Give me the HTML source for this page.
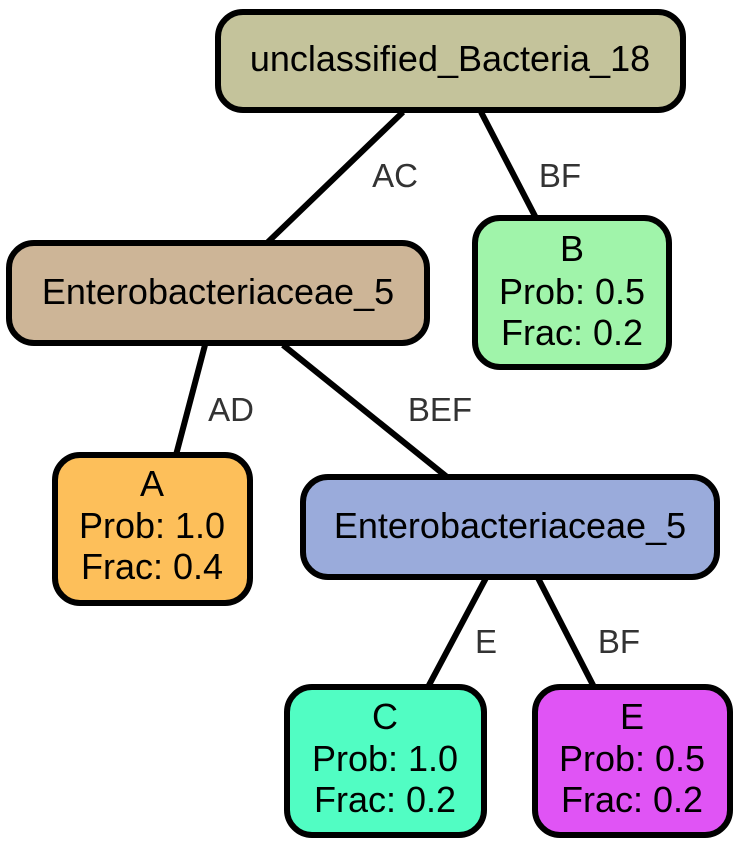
<!DOCTYPE html>
<html><head><meta charset="utf-8"><style>html,body{margin:0;padding:0;background:#fff}svg{display:block}</style></head>
<body>
<svg width="742" height="846" viewBox="0 0 742 846" xmlns="http://www.w3.org/2000/svg" font-family="'Liberation Sans', Arial, sans-serif">
<g stroke="#000" stroke-width="6" fill="none">
<line x1="403" y1="112" x2="268" y2="242"/>
<line x1="481" y1="112" x2="536" y2="218"/>
<line x1="205" y1="345" x2="176" y2="455"/>
<line x1="283" y1="345" x2="447" y2="477"/>
<line x1="486" y1="578" x2="428" y2="687"/>
<line x1="538" y1="578" x2="594" y2="687"/>
</g>
<g font-size="33" fill="#333" text-anchor="middle">
<text x="395" y="187">AC</text>
<text x="560" y="187">BF</text>
<text x="231" y="421">AD</text>
<text x="440" y="421">BEF</text>
<text x="486" y="653">E</text>
<text x="619" y="653">BF</text>
</g>
<g stroke="#000" stroke-width="6">
<rect x="218" y="12" width="465" height="98" rx="25" fill="#c4c39b"/>
<rect x="9" y="243" width="418" height="100" rx="25" fill="#cdb597"/>
<rect x="475" y="218" width="194" height="149" rx="25" fill="#a0f4aa"/>
<rect x="55" y="455" width="195" height="148" rx="25" fill="#fdbf5a"/>
<rect x="303" y="477" width="414" height="100" rx="25" fill="#9aabdb"/>
<rect x="287" y="687" width="197" height="148" rx="25" fill="#51fdc3"/>
<rect x="535" y="687" width="195" height="148" rx="25" fill="#e054f5"/>
</g>
<g font-size="36" fill="#000" text-anchor="middle">
<text x="450" y="71">unclassified_Bacteria_18</text>
<text x="218" y="304">Enterobacteriaceae_5</text>
<text x="572" y="261">B</text><text x="572" y="304">Prob: 0.5</text><text x="572" y="345">Frac: 0.2</text>
<text x="152" y="496">A</text><text x="152" y="538">Prob: 1.0</text><text x="152" y="579">Frac: 0.4</text>
<text x="510" y="538">Enterobacteriaceae_5</text>
<text x="385" y="729">C</text><text x="385" y="771">Prob: 1.0</text><text x="385" y="812">Frac: 0.2</text>
<text x="632" y="729">E</text><text x="632" y="771">Prob: 0.5</text><text x="632" y="812">Frac: 0.2</text>
</g>
</svg>
</body></html>
